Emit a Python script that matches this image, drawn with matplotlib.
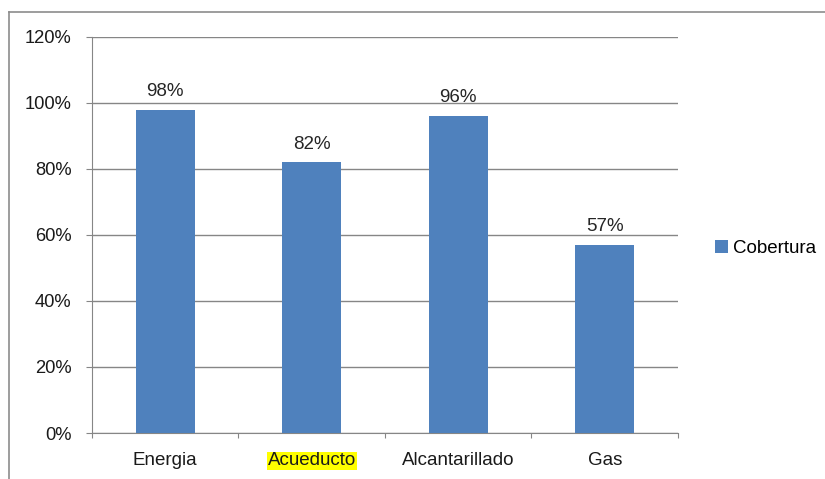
import matplotlib.pyplot as plt
from matplotlib.lines import Line2D
from matplotlib.ticker import FuncFormatter, MultipleLocator

plt.rcParams['font.family'] = ['Liberation Sans', 'DejaVu Sans']

# Data
categories = ['Energia', 'Acueducto', 'Alcantarillado', 'Gas']
cobertura = [0.98, 0.82, 0.96, 0.57]

bar_color = '#4F81BD'
grid_color = '#868686'

fig = plt.figure(figsize=(8.25, 4.79), dpi=100)
ax = fig.add_axes([0.1115, 0.096, 0.7103, 0.827])

x = range(len(categories))
bars = ax.bar(x, cobertura, width=0.4, color=bar_color, label='Cobertura', zorder=3)

for bar, v in zip(bars, cobertura):
    ax.annotate(f'{v:.0%}', xy=(bar.get_x() + bar.get_width() / 2, v),
                xytext=(0, 7), textcoords='offset points',
                ha='center', va='bottom', fontsize=13.5, color='#262626')

ax.set_xlim(-0.5, len(categories) - 0.5)
ax.set_ylim(0, 1.2)
ax.yaxis.set_major_locator(MultipleLocator(0.2))
ax.yaxis.set_major_formatter(FuncFormatter(lambda v, p: f'{v:.0%}'))
ax.grid(axis='y', color=grid_color, linewidth=1, zorder=0)

# category labels between boundary ticks
ax.set_xticks([i - 0.5 for i in range(len(categories) + 1)])
ax.set_xticklabels([])
ax.set_xticks(list(x), minor=True)
ax.set_xticklabels(categories, minor=True, fontsize=13.5, color='#1a1a1a')
ax.tick_params(axis='x', which='minor', length=0, pad=14)
ax.tick_params(axis='x', which='major', length=3.6, color=grid_color, direction='out')
ax.tick_params(axis='y', length=4.3, color=grid_color, labelsize=13.2, labelcolor='#1a1a1a', pad=10.5)

for lbl in ax.get_xticklabels(minor=True):
    if lbl.get_text() == 'Acueducto':
        lbl.set_bbox(dict(facecolor='#FFFF00', edgecolor='none', pad=0.5))

for s in ['top', 'right']:
    ax.spines[s].set_visible(False)
for s in ['left', 'bottom']:
    ax.spines[s].set_color(grid_color)

ax.legend(loc='center left', bbox_to_anchor=(1.035, 0.465), frameon=False,
          fontsize=13.5, handlelength=0.65, handleheight=0.65, handletextpad=0.3)

# outer chart border (cropped on right and bottom)
fig.add_artist(Line2D([9 / 825, 1], [1 - 12 / 479] * 2, color='#8c8c8c', lw=1.2))
fig.add_artist(Line2D([9 / 825] * 2, [0, 1 - 12 / 479], color='#8c8c8c', lw=1.2))

fig.savefig('out.png', dpi=100, facecolor='white')
